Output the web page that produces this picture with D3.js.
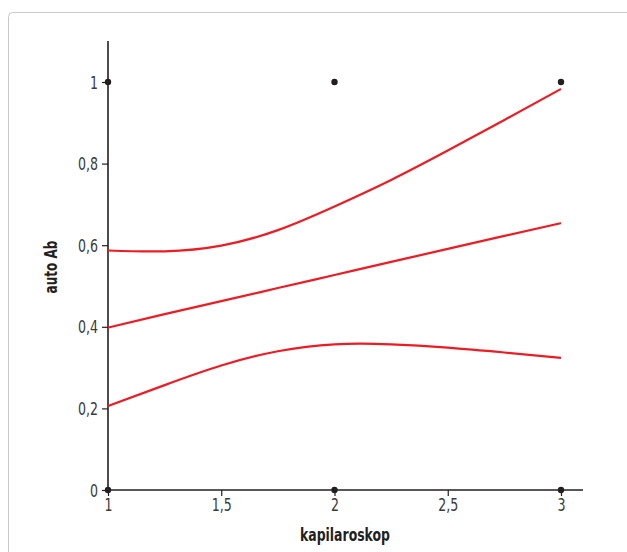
<!DOCTYPE html>
<html>
<head>
<meta charset="utf-8">
<script src="https://cdn.jsdelivr.net/npm/d3@7"></script>
<style>
body { margin: 0; background: #fff; }
svg text { font-family: "DejaVu Sans Condensed", "Liberation Sans Narrow", sans-serif; }
</style>
</head>
<body>
<div id="chart"></div>
<script>
// values
var xTicks = [1, 1.5, 2, 2.5, 3];
var yTicks = [0, 0.2, 0.4, 0.6, 0.8, 1];
var curveX = [1, 1.25, 1.5, 1.75, 2, 2.25, 2.5, 2.75, 3];
var fitMid = [0.398, 0.431, 0.463, 0.495, 0.527, 0.559, 0.591, 0.623, 0.654];
var fitUpper = [0.587, 0.585, 0.599, 0.637, 0.695, 0.760, 0.832, 0.907, 0.983];
var fitLower = [0.206, 0.257, 0.305, 0.340, 0.357, 0.357, 0.349, 0.337, 0.324];
var obsX = [1, 2, 3, 1, 2, 3];
var obsY = [1, 1, 1, 0, 0, 0];

var width = 627, height = 552;

var svg = d3.select("#chart").append("svg")
	.attr("width", width)
	.attr("height", height);

// outer frame
svg.append("rect")
	.attr("x", 8.5).attr("y", 12.5)
	.attr("width", 640).attr("height", 560)
	.attr("rx", 4)
	.style("fill", "none")
	.style("stroke", "#c8c8c8");

var x = d3.scaleLinear().domain([1, 3]).range([108, 561]);
var y = d3.scaleLinear().domain([0, 1]).range([490, 82]);

var fmt = function(d){ return String(d).replace(".", ","); };

// axis lines
svg.append("line")
	.attr("x1", 108).attr("x2", 108)
	.attr("y1", 41).attr("y2", y(0))
	.style("stroke", "#231f20").style("stroke-width", 1.6);
svg.append("line")
	.attr("x1", 108).attr("x2", 583)
	.attr("y1", y(0)).attr("y2", y(0))
	.style("stroke", "#231f20").style("stroke-width", 1.6);

var yAxis = svg.append("g").attr("transform", "translate(108,0)")
	.call(d3.axisLeft(y).tickValues(yTicks).tickSize(6).tickPadding(4).tickFormat(fmt));
var xAxis = svg.append("g").attr("transform", "translate(0," + y(0) + ")")
	.call(d3.axisBottom(x).tickValues(xTicks).tickSize(6).tickPadding(3).tickFormat(fmt));

[yAxis, xAxis].forEach(function(a)
{
	a.select(".domain").remove();
	a.selectAll(".tick line").style("stroke", "#231f20").style("stroke-width", 1.2);
	a.selectAll(".tick text")
		.style("font-family", "\"DejaVu Sans Condensed\", sans-serif")
		.style("font-size", "17px")
		.style("font-weight", "300")
		.style("fill", "#3a3a3a")
		.attr("textLength", function(d){ return fmt(d).length > 1 ? 20 : 8; })
		.attr("lengthAdjust", "spacingAndGlyphs");
});
yAxis.selectAll(".tick text").attr("dy", "0.36em");

// fitted curves
var line = d3.line()
	.x(function(d){ return x(d[0]); })
	.y(function(d){ return y(d[1]); })
	.curve(d3.curveNatural);

[fitUpper, fitMid, fitLower].forEach(function(series)
{
	svg.append("path")
		.datum(curveX.map(function(v, i){ return [v, series[i]]; }))
		.attr("d", line)
		.style("fill", "none")
		.style("stroke", "#ed1c24")
		.style("stroke-width", 2.2);
});

// observations
svg.selectAll("circle.obs")
	.data(obsX.map(function(v, i){ return [v, obsY[i]]; }))
	.enter().append("circle")
	.attr("class", "obs")
	.attr("cx", function(d){ return x(d[0]); })
	.attr("cy", function(d){ return y(d[1]); })
	.attr("r", 3.2)
	.style("fill", "#231f20");

// axis titles
svg.append("text")
	.attr("x", 345).attr("y", 541)
	.attr("text-anchor", "middle")
	.attr("textLength", 90)
	.attr("lengthAdjust", "spacingAndGlyphs")
	.style("font-size", "17px")
	.style("font-weight", "bold")
	.style("fill", "#231f20")
	.text("kapilaroskop");

svg.append("text")
	.attr("transform", "translate(57,267) rotate(-90)")
	.attr("text-anchor", "middle")
	.attr("textLength", 53)
	.attr("lengthAdjust", "spacingAndGlyphs")
	.style("font-size", "17px")
	.style("font-weight", "bold")
	.style("fill", "#231f20")
	.text("auto Ab");
</script>
</body>
</html>
